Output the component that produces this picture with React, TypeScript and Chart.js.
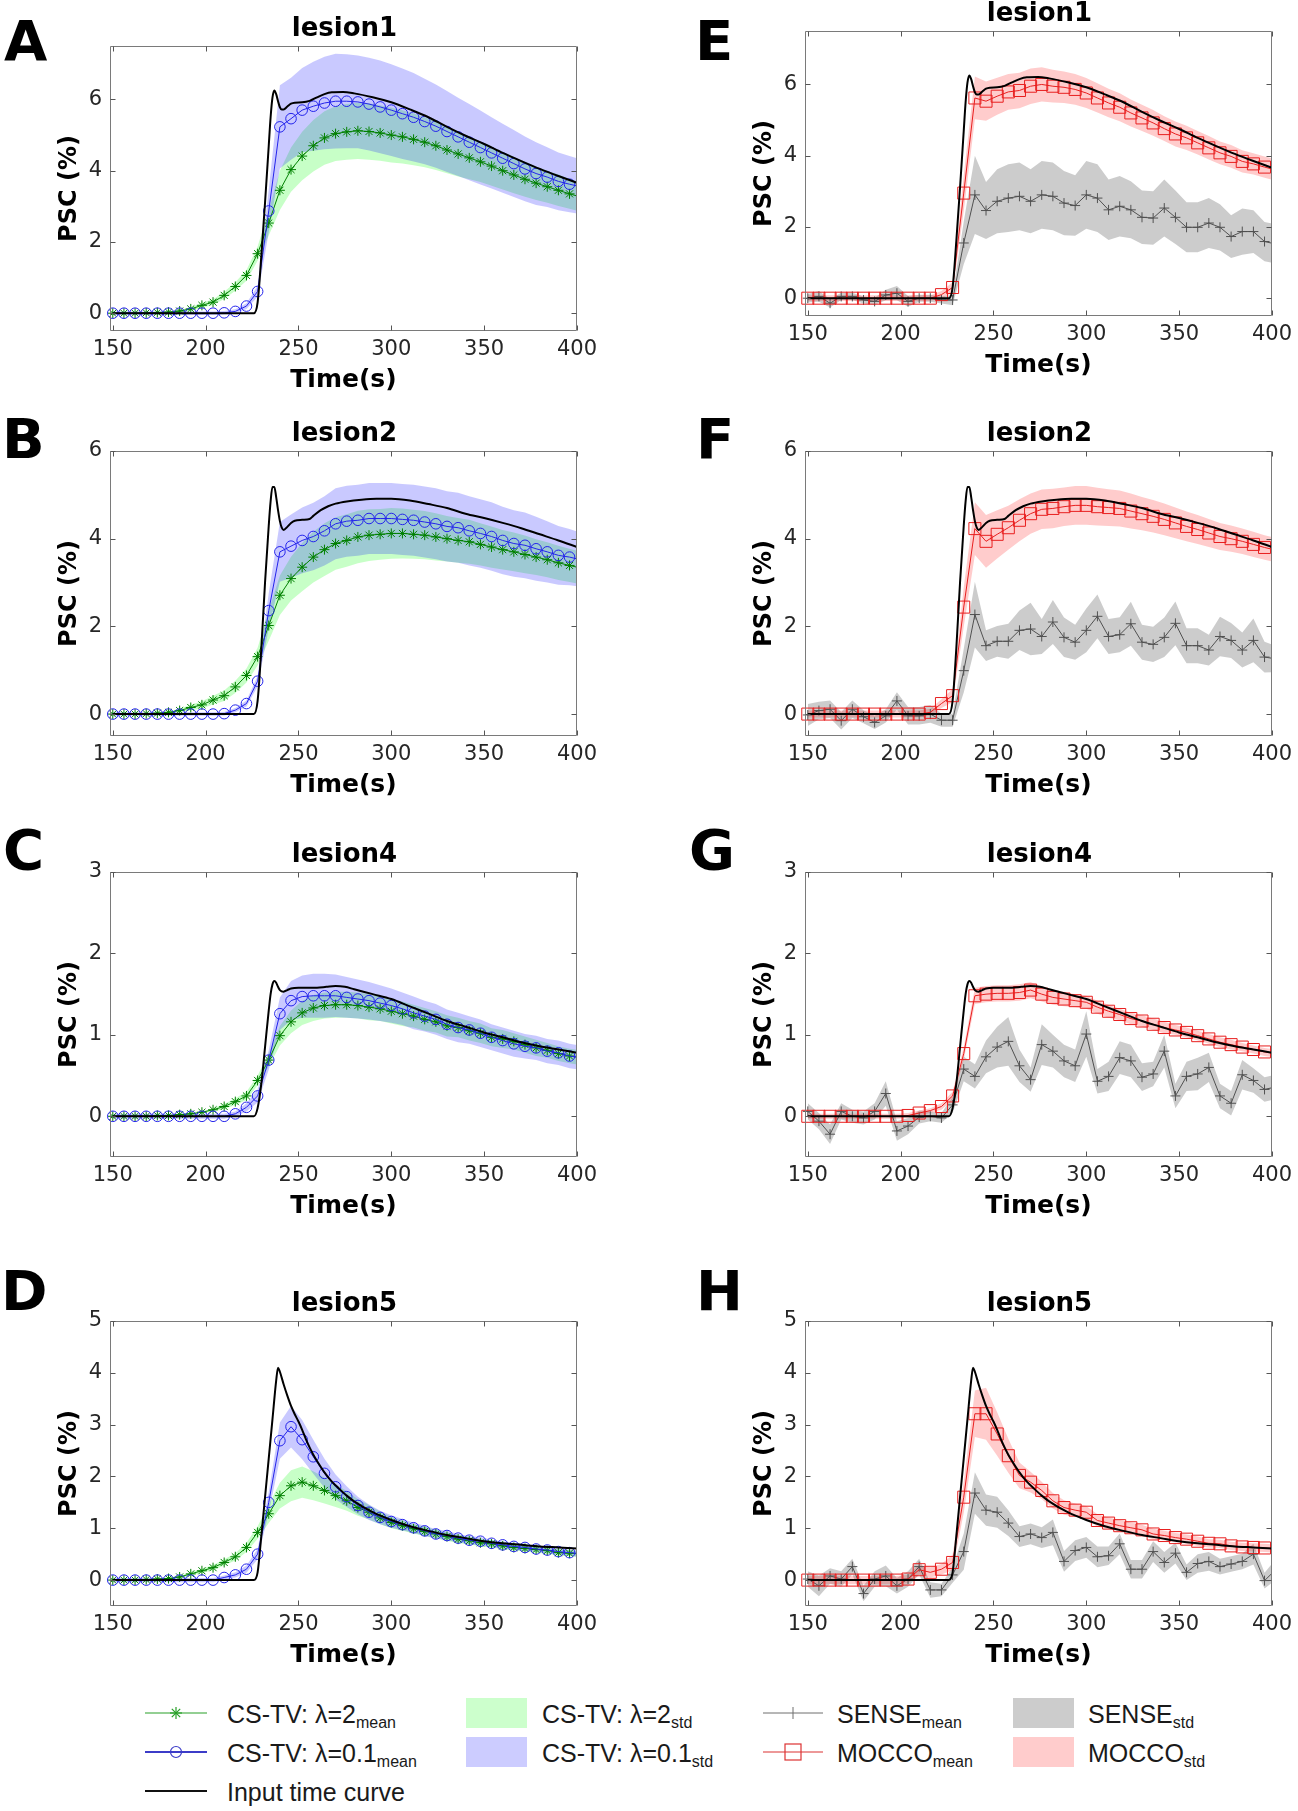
import React, { useEffect, useRef } from "react";
import { Chart, registerables } from "chart.js";

Chart.register(...registerables);

// ---------------- DATA ----------------
const TIME = [150, 156, 162, 168, 174, 180, 186, 192, 198, 204, 210, 216, 222, 228, 234, 240, 246, 252, 258, 264, 270, 276, 282, 288, 294, 300, 306, 312, 318, 324, 330, 336, 342, 348, 354, 360, 366, 372, 378, 384, 390, 396, 402];
const X_TICKS = [150, 200, 250, 300, 350, 400];
const X_MIN = 148.5;
const X_MAX = 400;

// input time curves (one per lesion)
const IN1_T = [150, 226, 228, 230, 232, 234, 235, 236, 237, 238, 239, 240, 241, 242, 244, 246, 248, 252, 256, 260, 264, 268, 274, 280, 290, 300, 310, 320, 330, 340, 350, 360, 370, 380, 390, 400];
const IN1_V = [0, 0, 0.3, 1.6, 3.1, 4.7, 5.5, 6.05, 6.25, 6.15, 5.95, 5.78, 5.72, 5.72, 5.8, 5.88, 5.91, 5.92, 5.96, 6.06, 6.15, 6.2, 6.21, 6.17, 6.06, 5.92, 5.72, 5.5, 5.23, 4.98, 4.75, 4.5, 4.27, 4.05, 3.85, 3.66];
const IN2_T = [150, 226, 228, 230, 232, 234, 235, 236, 237, 238, 239, 240, 241, 242, 244, 246, 248, 252, 256, 258, 262, 266, 270, 276, 284, 292, 300, 310, 320, 330, 340, 350, 360, 370, 380, 390, 400];
const IN2_V = [0, 0, 0.3, 1.5, 3.0, 4.3, 4.85, 5.18, 5.18, 4.95, 4.65, 4.4, 4.25, 4.2, 4.27, 4.36, 4.41, 4.43, 4.45, 4.52, 4.65, 4.74, 4.8, 4.85, 4.89, 4.91, 4.91, 4.87, 4.79, 4.7, 4.57, 4.47, 4.36, 4.24, 4.1, 3.96, 3.81];
const IN4_T = [150, 226, 228, 230, 232, 234, 235, 236, 237, 238, 239, 240, 242, 244, 246, 250, 255, 260, 265, 270, 275, 280, 290, 300, 310, 320, 330, 340, 350, 360, 370, 380, 390, 400];
const IN4_V = [0, 0, 0.1, 0.4, 0.85, 1.3, 1.5, 1.62, 1.66, 1.64, 1.59, 1.55, 1.53, 1.55, 1.57, 1.58, 1.58, 1.58, 1.59, 1.6, 1.59, 1.56, 1.5, 1.44, 1.35, 1.26, 1.17, 1.1, 1.03, 0.97, 0.91, 0.86, 0.82, 0.78];
const IN5_T = [150, 226, 228, 230, 232, 234, 236, 238, 239, 240, 242, 244, 246, 248, 250, 252, 254, 256, 258, 260, 264, 268, 272, 276, 280, 290, 300, 310, 320, 330, 340, 350, 360, 370, 380, 390, 400];
const IN5_V = [0, 0, 0.15, 0.85, 1.6, 2.35, 3.1, 3.85, 4.1, 4.02, 3.78, 3.56, 3.36, 3.2, 3.06, 2.9, 2.72, 2.56, 2.42, 2.3, 2.08, 1.9, 1.76, 1.63, 1.52, 1.31, 1.16, 1.04, 0.95, 0.87, 0.81, 0.75, 0.71, 0.68, 0.65, 0.63, 0.61];

// Panel A (lesion1) CS-TV
const A_L2_MEAN = [0, 0, 0, 0.01, 0.02, 0.03, 0.06, 0.12, 0.22, 0.31, 0.5, 0.75, 1.06, 1.67, 2.53, 3.45, 4.03, 4.41, 4.7, 4.92, 5.04, 5.09, 5.12, 5.1, 5.06, 5.0, 4.95, 4.88, 4.8, 4.7, 4.58, 4.47, 4.36, 4.25, 4.13, 4.0, 3.88, 3.76, 3.65, 3.55, 3.45, 3.35, 3.26];
const A_L2_STD = [0.02, 0.02, 0.02, 0.02, 0.02, 0.02, 0.03, 0.05, 0.07, 0.08, 0.1, 0.12, 0.15, 0.2, 0.35, 0.55, 0.62, 0.68, 0.72, 0.75, 0.77, 0.78, 0.79, 0.79, 0.78, 0.77, 0.75, 0.73, 0.7, 0.68, 0.65, 0.63, 0.6, 0.57, 0.55, 0.53, 0.51, 0.49, 0.47, 0.45, 0.44, 0.42, 0.41];
const A_L01_MEAN = [0, 0, 0, 0, 0, 0, 0, 0, 0, 0, 0.01, 0.05, 0.2, 0.61, 2.87, 5.23, 5.46, 5.7, 5.81, 5.9, 5.95, 5.95, 5.93, 5.87, 5.79, 5.7, 5.6, 5.5, 5.38, 5.25, 5.1, 4.95, 4.8, 4.65, 4.5, 4.35, 4.2, 4.05, 3.92, 3.82, 3.7, 3.62, 3.55];
const A_L01_STD = [0.05, 0.05, 0.05, 0.05, 0.05, 0.05, 0.05, 0.05, 0.05, 0.05, 0.05, 0.06, 0.08, 0.15, 0.6, 1.17, 1.15, 1.18, 1.25, 1.3, 1.33, 1.32, 1.3, 1.3, 1.3, 1.29, 1.27, 1.24, 1.2, 1.17, 1.14, 1.1, 1.07, 1.04, 1.0, 0.97, 0.94, 0.91, 0.88, 0.84, 0.81, 0.79, 0.77];

// Panel B (lesion2) CS-TV
const B_L2_MEAN = [0, 0, 0, 0.01, 0.02, 0.04, 0.08, 0.15, 0.21, 0.32, 0.42, 0.62, 0.88, 1.31, 2.02, 2.71, 3.09, 3.35, 3.58, 3.75, 3.89, 3.96, 4.04, 4.08, 4.1, 4.12, 4.12, 4.1, 4.08, 4.04, 4.0, 3.96, 3.93, 3.87, 3.81, 3.75, 3.7, 3.64, 3.58, 3.52, 3.45, 3.39, 3.33];
const B_L2_STD = [0.02, 0.02, 0.02, 0.02, 0.02, 0.02, 0.04, 0.06, 0.08, 0.1, 0.12, 0.14, 0.16, 0.2, 0.35, 0.45, 0.5, 0.55, 0.58, 0.6, 0.6, 0.6, 0.6, 0.59, 0.58, 0.58, 0.57, 0.56, 0.55, 0.54, 0.52, 0.51, 0.5, 0.48, 0.47, 0.45, 0.44, 0.43, 0.41, 0.4, 0.39, 0.38, 0.37];
const B_L01_MEAN = [0, 0, 0, 0, 0, 0, 0, 0, 0, 0, 0.01, 0.09, 0.24, 0.75, 2.36, 3.7, 3.83, 3.96, 4.05, 4.18, 4.34, 4.4, 4.42, 4.46, 4.46, 4.46, 4.44, 4.42, 4.38, 4.34, 4.28, 4.25, 4.18, 4.12, 4.05, 3.96, 3.89, 3.85, 3.77, 3.7, 3.62, 3.58, 3.52];
const B_L01_STD = [0.04, 0.04, 0.04, 0.04, 0.04, 0.04, 0.04, 0.04, 0.04, 0.04, 0.04, 0.05, 0.07, 0.12, 0.4, 0.68, 0.72, 0.75, 0.77, 0.79, 0.81, 0.81, 0.81, 0.81, 0.81, 0.81, 0.81, 0.81, 0.81, 0.81, 0.8, 0.8, 0.79, 0.78, 0.78, 0.77, 0.76, 0.75, 0.73, 0.7, 0.67, 0.64, 0.62];

// Panel C (lesion4) CS-TV
const C_L2_MEAN = [0, 0, 0, 0, 0.01, 0.01, 0.02, 0.03, 0.05, 0.08, 0.12, 0.18, 0.25, 0.44, 0.69, 0.99, 1.16, 1.27, 1.33, 1.36, 1.37, 1.37, 1.36, 1.34, 1.32, 1.29, 1.26, 1.23, 1.19, 1.16, 1.11, 1.09, 1.05, 1.02, 0.97, 0.95, 0.92, 0.88, 0.84, 0.81, 0.77, 0.74, 0.72];
const C_L2_STD = [0.01, 0.01, 0.01, 0.01, 0.01, 0.01, 0.01, 0.01, 0.01, 0.02, 0.03, 0.04, 0.05, 0.06, 0.08, 0.12, 0.14, 0.15, 0.16, 0.16, 0.16, 0.16, 0.16, 0.16, 0.15, 0.15, 0.15, 0.14, 0.14, 0.13, 0.13, 0.12, 0.12, 0.12, 0.11, 0.11, 0.1, 0.1, 0.1, 0.09, 0.09, 0.09, 0.09];
const C_L01_MEAN = [0, 0, 0, 0, 0, 0, 0, 0, 0, 0, 0, 0.03, 0.11, 0.25, 0.69, 1.26, 1.42, 1.47, 1.48, 1.48, 1.48, 1.46, 1.44, 1.42, 1.39, 1.36, 1.32, 1.27, 1.23, 1.19, 1.13, 1.09, 1.06, 1.02, 0.97, 0.93, 0.89, 0.86, 0.84, 0.8, 0.78, 0.74, 0.72];
const C_L01_STD = [0.03, 0.03, 0.03, 0.03, 0.03, 0.03, 0.03, 0.03, 0.03, 0.03, 0.03, 0.03, 0.05, 0.08, 0.12, 0.2, 0.24, 0.26, 0.27, 0.27, 0.26, 0.25, 0.24, 0.23, 0.22, 0.21, 0.2, 0.2, 0.19, 0.19, 0.18, 0.18, 0.17, 0.17, 0.16, 0.16, 0.16, 0.15, 0.15, 0.15, 0.15, 0.15, 0.15];

// Panel D (lesion5) CS-TV
const D_L2_MEAN = [0, 0, 0, 0.01, 0.02, 0.03, 0.06, 0.12, 0.18, 0.24, 0.34, 0.45, 0.63, 0.92, 1.28, 1.63, 1.82, 1.89, 1.82, 1.73, 1.63, 1.53, 1.4, 1.31, 1.2, 1.11, 1.05, 0.99, 0.94, 0.89, 0.84, 0.79, 0.76, 0.72, 0.7, 0.66, 0.63, 0.61, 0.59, 0.57, 0.53, 0.52, 0.5];
const D_L2_STD = [0.02, 0.02, 0.02, 0.02, 0.02, 0.02, 0.02, 0.03, 0.04, 0.05, 0.06, 0.07, 0.09, 0.12, 0.18, 0.25, 0.3, 0.3, 0.28, 0.25, 0.22, 0.19, 0.16, 0.14, 0.12, 0.11, 0.1, 0.09, 0.09, 0.08, 0.08, 0.08, 0.07, 0.07, 0.07, 0.07, 0.06, 0.06, 0.06, 0.06, 0.06, 0.06, 0.06];
const D_L01_MEAN = [0, 0, 0, 0, 0, 0, 0, 0, 0, 0, 0.05, 0.1, 0.21, 0.5, 1.5, 2.69, 2.96, 2.71, 2.38, 2.06, 1.8, 1.61, 1.44, 1.31, 1.21, 1.13, 1.07, 1.01, 0.95, 0.89, 0.86, 0.81, 0.77, 0.75, 0.71, 0.68, 0.65, 0.63, 0.6, 0.58, 0.55, 0.53, 0.51];
const D_L01_STD = [0.04, 0.04, 0.04, 0.04, 0.04, 0.04, 0.04, 0.04, 0.04, 0.04, 0.04, 0.05, 0.07, 0.1, 0.2, 0.35, 0.4, 0.38, 0.33, 0.28, 0.24, 0.2, 0.17, 0.15, 0.13, 0.12, 0.11, 0.1, 0.1, 0.09, 0.09, 0.08, 0.08, 0.08, 0.07, 0.07, 0.07, 0.07, 0.06, 0.06, 0.06, 0.06, 0.06];

// Panel E (lesion1) SENSE / MOCCO
const E_SENSE_MEAN = [0, 0.05, -0.14, 0.05, 0.05, -0.05, -0.09, 0.09, 0.14, -0.09, 0, 0, -0.05, -0.05, 1.55, 2.9, 2.46, 2.72, 2.81, 2.86, 2.72, 2.9, 2.86, 2.67, 2.6, 2.9, 2.81, 2.48, 2.58, 2.48, 2.27, 2.25, 2.53, 2.27, 1.99, 1.99, 2.11, 1.99, 1.73, 1.87, 1.87, 1.59, 1.52];
const E_SENSE_STD = [0.12, 0.15, 0.12, 0.1, 0.1, 0.1, 0.1, 0.15, 0.2, 0.15, 0.1, 0.1, 0.1, 0.15, 0.6, 1.1, 0.8, 0.9, 0.95, 0.95, 0.9, 0.95, 0.95, 0.9, 0.85, 0.95, 0.95, 0.85, 0.85, 0.8, 0.75, 0.75, 0.8, 0.75, 0.7, 0.7, 0.7, 0.65, 0.6, 0.65, 0.6, 0.55, 0.55];
const E_MOCCO_MEAN = [0, 0, 0, 0, 0, 0, 0, 0, 0, 0, 0, 0, 0.1, 0.3, 2.95, 5.62, 5.53, 5.67, 5.79, 5.83, 5.95, 6.0, 5.95, 5.92, 5.86, 5.76, 5.62, 5.48, 5.36, 5.2, 5.06, 4.92, 4.76, 4.61, 4.5, 4.36, 4.22, 4.08, 3.98, 3.84, 3.77, 3.68, 3.6];
const E_MOCCO_STD = [0.08, 0.08, 0.08, 0.08, 0.08, 0.08, 0.08, 0.08, 0.08, 0.08, 0.08, 0.08, 0.1, 0.15, 0.5, 0.6, 0.55, 0.52, 0.5, 0.5, 0.5, 0.48, 0.46, 0.44, 0.43, 0.42, 0.41, 0.4, 0.39, 0.38, 0.37, 0.36, 0.35, 0.35, 0.34, 0.33, 0.33, 0.32, 0.32, 0.31, 0.3, 0.3, 0.3];

// Panel F (lesion2) SENSE / MOCCO
const F_SENSE_MEAN = [-0.02, 0.08, 0.11, -0.15, 0.11, -0.06, -0.19, -0.04, 0.3, -0.04, -0.04, 0, -0.14, -0.14, 0.99, 2.27, 1.56, 1.66, 1.66, 1.91, 1.94, 1.77, 2.1, 1.75, 1.64, 1.91, 2.23, 1.77, 1.81, 2.06, 1.64, 1.59, 1.75, 2.07, 1.56, 1.56, 1.46, 1.77, 1.68, 1.46, 1.68, 1.3, 1.26];
const F_SENSE_STD = [0.25, 0.2, 0.2, 0.2, 0.2, 0.15, 0.15, 0.15, 0.2, 0.2, 0.2, 0.2, 0.15, 0.15, 0.5, 0.75, 0.35, 0.35, 0.4, 0.45, 0.6, 0.4, 0.5, 0.45, 0.4, 0.5, 0.5, 0.4, 0.4, 0.5, 0.4, 0.4, 0.45, 0.5, 0.4, 0.4, 0.35, 0.45, 0.4, 0.4, 0.5, 0.35, 0.3];
const F_MOCCO_MEAN = [0, 0, 0, 0, 0, 0, 0, 0, 0, 0, 0, 0.04, 0.24, 0.42, 2.44, 4.23, 3.94, 4.1, 4.25, 4.42, 4.57, 4.67, 4.69, 4.73, 4.76, 4.76, 4.73, 4.71, 4.69, 4.63, 4.57, 4.51, 4.44, 4.36, 4.28, 4.21, 4.13, 4.05, 4.0, 3.94, 3.87, 3.8, 3.74];
const F_MOCCO_STD = [0.08, 0.08, 0.08, 0.08, 0.08, 0.08, 0.08, 0.08, 0.08, 0.08, 0.08, 0.08, 0.1, 0.15, 0.45, 0.6, 0.6, 0.55, 0.5, 0.48, 0.46, 0.45, 0.45, 0.44, 0.44, 0.44, 0.43, 0.42, 0.41, 0.4, 0.38, 0.37, 0.36, 0.35, 0.34, 0.33, 0.32, 0.31, 0.3, 0.29, 0.29, 0.28, 0.28];

// Panel G (lesion4) SENSE / MOCCO
const G_SENSE_MEAN = [0.06, -0.06, -0.22, 0.06, 0, -0.02, 0.06, 0.28, -0.18, -0.12, -0.01, 0, -0.02, 0.14, 0.58, 0.49, 0.73, 0.85, 0.92, 0.62, 0.45, 0.88, 0.8, 0.68, 0.62, 1.01, 0.43, 0.49, 0.72, 0.68, 0.48, 0.52, 0.8, 0.25, 0.49, 0.52, 0.6, 0.25, 0.16, 0.51, 0.44, 0.33, 0.36];
const G_SENSE_STD = [0.1, 0.1, 0.12, 0.1, 0.08, 0.08, 0.1, 0.15, 0.12, 0.1, 0.08, 0.06, 0.06, 0.1, 0.15, 0.15, 0.2, 0.25, 0.3, 0.2, 0.15, 0.25, 0.2, 0.2, 0.2, 0.28, 0.15, 0.18, 0.2, 0.2, 0.17, 0.15, 0.2, 0.15, 0.18, 0.2, 0.18, 0.15, 0.15, 0.18, 0.15, 0.15, 0.15];
const G_MOCCO_MEAN = [0, 0, 0, 0, 0, 0, 0, 0, 0, 0.01, 0.04, 0.07, 0.12, 0.25, 0.77, 1.48, 1.5, 1.51, 1.51, 1.52, 1.55, 1.5, 1.46, 1.44, 1.42, 1.4, 1.34, 1.29, 1.25, 1.2, 1.17, 1.13, 1.09, 1.06, 1.03, 0.99, 0.95, 0.91, 0.88, 0.85, 0.82, 0.79, 0.77];
const G_MOCCO_STD = [0.03, 0.03, 0.03, 0.03, 0.03, 0.03, 0.03, 0.03, 0.03, 0.03, 0.03, 0.03, 0.04, 0.05, 0.08, 0.1, 0.1, 0.1, 0.1, 0.1, 0.1, 0.09, 0.09, 0.09, 0.08, 0.08, 0.08, 0.08, 0.07, 0.07, 0.07, 0.07, 0.07, 0.06, 0.06, 0.06, 0.06, 0.06, 0.06, 0.05, 0.05, 0.05, 0.05];

// Panel H (lesion5) SENSE / MOCCO
const H_SENSE_MEAN = [0.02, -0.11, 0.08, 0.02, 0.26, -0.26, 0.02, 0.08, -0.11, 0.02, 0.26, -0.19, -0.19, 0.1, 0.55, 1.68, 1.35, 1.31, 1.1, 0.84, 0.89, 0.82, 0.92, 0.36, 0.57, 0.63, 0.45, 0.47, 0.7, 0.21, 0.21, 0.55, 0.34, 0.52, 0.15, 0.32, 0.36, 0.26, 0.31, 0.36, 0.5, -0.01, 0.2];
const H_SENSE_STD = [0.15, 0.2, 0.15, 0.15, 0.15, 0.15, 0.15, 0.2, 0.15, 0.15, 0.15, 0.15, 0.12, 0.15, 0.35, 0.4, 0.3, 0.3, 0.25, 0.2, 0.2, 0.2, 0.25, 0.2, 0.2, 0.2, 0.2, 0.18, 0.2, 0.18, 0.18, 0.2, 0.2, 0.2, 0.15, 0.18, 0.18, 0.15, 0.15, 0.15, 0.2, 0.15, 0.2];
const H_MOCCO_MEAN = [0, 0, 0, 0, 0, 0, 0, 0, 0, 0.02, 0.2, 0.15, 0.21, 0.34, 1.6, 3.21, 3.21, 2.82, 2.4, 2.02, 1.89, 1.73, 1.53, 1.4, 1.35, 1.31, 1.15, 1.1, 1.05, 1.01, 0.97, 0.89, 0.86, 0.82, 0.79, 0.75, 0.71, 0.7, 0.66, 0.64, 0.63, 0.62, 0.61];
const H_MOCCO_STD = [0.08, 0.08, 0.08, 0.08, 0.08, 0.08, 0.08, 0.08, 0.08, 0.08, 0.1, 0.1, 0.1, 0.15, 0.3, 0.45, 0.5, 0.42, 0.33, 0.25, 0.2, 0.17, 0.15, 0.14, 0.13, 0.12, 0.12, 0.11, 0.11, 0.1, 0.1, 0.1, 0.09, 0.09, 0.09, 0.09, 0.08, 0.08, 0.08, 0.08, 0.08, 0.08, 0.08];

const Y_TICKS_1 = [0, 2, 4, 6];
const Y_TICKS_2 = [0, 2, 4, 6];
const Y_TICKS_4 = [0, 1, 2, 3];
const Y_TICKS_5 = [0, 1, 2, 3, 4, 5];

// ---------------- LAYOUT / STYLE ----------------
const AX_W = 469;
const AX_H = 285;
const PAD_L = 90;
const PAD_T = 30;
const PAD_R = 24;
const PAD_B = 70;
const FONT = '"DejaVu Sans", Verdana, sans-serif';

const CS_STYLE = {
  c1: "rgb(0,128,0)", p1: "star", r1: 5,
  c2: "rgb(35,35,235)", p2: "circle", r2: 5.3,
  f1: "rgba(0,255,0,0.22)", f2: "rgba(0,0,255,0.21)",
};
const MC_STYLE = {
  c1: "rgb(80,80,80)", p1: "cross", r1: 5,
  c2: "rgb(232,30,30)", p2: "rect", r2: 8.5,
  f1: "rgba(0,0,0,0.2)", f2: "rgba(255,0,0,0.2)",
};

type PanelDef = {
  letter: string; letterX: number; letterY: number;
  title: string; left: number; top: number;
  yMin: number; yMax: number; yTicks: number[];
  inT: number[]; inV: number[];
  kind: "cs" | "mc";
  m1: number[]; s1: number[]; m2: number[]; s2: number[];
};

const PANELS: PanelDef[] = [
  { letter: "A", letterX: 4, letterY: 13, title: "lesion1", left: 110, top: 46, yMin: -0.5, yMax: 7.5, yTicks: Y_TICKS_1, inT: IN1_T, inV: IN1_V, kind: "cs", m1: A_L2_MEAN, s1: A_L2_STD, m2: A_L01_MEAN, s2: A_L01_STD },
  { letter: "B", letterX: 2, letterY: 411, title: "lesion2", left: 110, top: 451, yMin: -0.5, yMax: 6, yTicks: Y_TICKS_2, inT: IN2_T, inV: IN2_V, kind: "cs", m1: B_L2_MEAN, s1: B_L2_STD, m2: B_L01_MEAN, s2: B_L01_STD },
  { letter: "C", letterX: 3, letterY: 822, title: "lesion4", left: 110, top: 872, yMin: -0.5, yMax: 3, yTicks: Y_TICKS_4, inT: IN4_T, inV: IN4_V, kind: "cs", m1: C_L2_MEAN, s1: C_L2_STD, m2: C_L01_MEAN, s2: C_L01_STD },
  { letter: "D", letterX: 1, letterY: 1263, title: "lesion5", left: 110, top: 1321, yMin: -0.5, yMax: 5, yTicks: Y_TICKS_5, inT: IN5_T, inV: IN5_V, kind: "cs", m1: D_L2_MEAN, s1: D_L2_STD, m2: D_L01_MEAN, s2: D_L01_STD },
  { letter: "E", letterX: 695, letterY: 13, title: "lesion1", left: 805, top: 31, yMin: -0.5, yMax: 7.5, yTicks: Y_TICKS_1, inT: IN1_T, inV: IN1_V, kind: "mc", m1: E_SENSE_MEAN, s1: E_SENSE_STD, m2: E_MOCCO_MEAN, s2: E_MOCCO_STD },
  { letter: "F", letterX: 696, letterY: 411, title: "lesion2", left: 805, top: 451, yMin: -0.5, yMax: 6, yTicks: Y_TICKS_2, inT: IN2_T, inV: IN2_V, kind: "mc", m1: F_SENSE_MEAN, s1: F_SENSE_STD, m2: F_MOCCO_MEAN, s2: F_MOCCO_STD },
  { letter: "G", letterX: 689, letterY: 822, title: "lesion4", left: 805, top: 872, yMin: -0.5, yMax: 3, yTicks: Y_TICKS_4, inT: IN4_T, inV: IN4_V, kind: "mc", m1: G_SENSE_MEAN, s1: G_SENSE_STD, m2: G_MOCCO_MEAN, s2: G_MOCCO_STD },
  { letter: "H", letterX: 696, letterY: 1263, title: "lesion5", left: 805, top: 1321, yMin: -0.5, yMax: 5, yTicks: Y_TICKS_5, inT: IN5_T, inV: IN5_V, kind: "mc", m1: H_SENSE_MEAN, s1: H_SENSE_STD, m2: H_MOCCO_MEAN, s2: H_MOCCO_STD },
];

function pts(t: number[], v: number[]) {
  return t.map((x, i) => ({ x, y: v[i] }));
}

const boxPlugin = {
  id: "matlabBox",
  afterDatasetsDraw(chart: any) {
    const { ctx, chartArea } = chart;
    const xs = chart.scales.x;
    const ys = chart.scales.y;
    const l = Math.round(chartArea.left) + 0.5;
    const r = Math.round(chartArea.right) - 0.5;
    const t = Math.round(chartArea.top) + 0.5;
    const b = Math.round(chartArea.bottom) - 0.5;
    ctx.save();
    ctx.lineWidth = 1;
    ctx.strokeStyle = "#7a7a7a";
    ctx.beginPath();
    ctx.rect(l, t, r - l, b - t);
    ctx.stroke();
    ctx.strokeStyle = "#555";
    ctx.beginPath();
    const tl = 5;
    for (const tk of xs.ticks) {
      const px = Math.round(xs.getPixelForValue(tk.value)) + 0.5;
      ctx.moveTo(px, b); ctx.lineTo(px, b - tl);
      ctx.moveTo(px, t); ctx.lineTo(px, t + tl);
    }
    for (const tk of ys.ticks) {
      const py = Math.round(ys.getPixelForValue(tk.value)) + 0.5;
      ctx.moveTo(l, py); ctx.lineTo(l + tl, py);
      ctx.moveTo(r, py); ctx.lineTo(r - tl, py);
    }
    ctx.stroke();
    ctx.restore();
  },
};

const CLIP = { left: 10, top: 10, right: 0, bottom: 10 };

function Panel({ p }: { p: PanelDef }) {
  const ref = useRef<HTMLCanvasElement | null>(null);
  const W = PAD_L + AX_W + PAD_R;
  const H = PAD_T + AX_H + PAD_B;
  useEffect(() => {
    const st = p.kind === "cs" ? CS_STYLE : MC_STYLE;
    const up = (m: number[], s: number[]) => m.map((v, i) => v + s[i]);
    const lo = (m: number[], s: number[]) => m.map((v, i) => v - s[i]);
    const none = "rgba(0,0,0,0)";
    const rad = (r: number) => (c: any) => (c.raw && c.raw.x > X_MAX ? 0 : r);
    const datasets: any[] = [
      { data: pts(p.inT, p.inV), borderColor: "#000", borderWidth: 2, pointRadius: 0, cubicInterpolationMode: "monotone", order: 0, clip: CLIP },
      { data: pts(TIME, p.m2), borderColor: st.c2, borderWidth: 1, pointStyle: st.p2, pointRadius: rad(st.r2), pointBorderColor: st.c2, pointBackgroundColor: none, pointBorderWidth: 1, order: 1, clip: CLIP },
      { data: pts(TIME, p.m1), borderColor: st.c1, borderWidth: 1, pointStyle: st.p1, pointRadius: rad(st.r1), pointBorderColor: st.c1, pointBackgroundColor: none, pointBorderWidth: 1, order: 2, clip: CLIP },
      { data: pts(TIME, up(p.m2, p.s2)), borderColor: none, borderWidth: 0, pointRadius: 0, fill: "+1", backgroundColor: st.f2, order: 3, clip: CLIP },
      { data: pts(TIME, lo(p.m2, p.s2)), borderColor: none, borderWidth: 0, pointRadius: 0, fill: false, order: 3, clip: CLIP },
      { data: pts(TIME, up(p.m1, p.s1)), borderColor: none, borderWidth: 0, pointRadius: 0, fill: "+1", backgroundColor: st.f1, order: 4, clip: CLIP },
      { data: pts(TIME, lo(p.m1, p.s1)), borderColor: none, borderWidth: 0, pointRadius: 0, fill: false, order: 4, clip: CLIP },
    ];
    const tickFont = { family: FONT, size: 21 };
    const chart = new Chart(ref.current as HTMLCanvasElement, {
      type: "line",
      data: { datasets },
      options: {
        responsive: false,
        animation: false,
        devicePixelRatio: 1,
        events: [],
        layout: { padding: { top: PAD_T, right: PAD_R, left: 0, bottom: 0 } },
        plugins: { legend: { display: false }, tooltip: { enabled: false }, title: { display: false } },
        elements: { line: { tension: 0 } },
        scales: {
          x: {
            type: "linear", min: X_MIN, max: X_MAX,
            afterBuildTicks: (s: any) => { s.ticks = X_TICKS.map((v) => ({ value: v })); },
            afterFit: (s: any) => { s.height = PAD_B; },
            grid: { display: false, drawTicks: false },
            border: { display: false },
            ticks: { font: tickFont, color: "#262626", padding: 6, autoSkip: false, maxRotation: 0, callback: (v: any) => String(v) },
            title: { display: true, text: "Time(s)", color: "#000", font: { family: FONT, size: 25, weight: "bold" }, padding: { top: 0, bottom: 6 } },
          },
          y: {
            type: "linear", min: p.yMin, max: p.yMax,
            afterBuildTicks: (s: any) => { s.ticks = p.yTicks.map((v) => ({ value: v })); },
            afterFit: (s: any) => { s.width = PAD_L; },
            grid: { display: false, drawTicks: false },
            border: { display: false },
            ticks: { font: tickFont, color: "#262626", padding: 8, autoSkip: false, callback: (v: any) => String(v) },
            title: { display: true, text: "PSC (%)", color: "#000", font: { family: FONT, size: 24, weight: "bold" }, padding: { top: 35, bottom: 0 } },
          },
        },
      } as any,
      plugins: [boxPlugin],
    });
    return () => chart.destroy();
  }, []);
  return (
    <canvas
      ref={ref}
      width={W}
      height={H}
      style={{ position: "absolute", left: p.left - PAD_L, top: p.top - PAD_T, width: W, height: H }}
    />
  );
}

const LEG_FONT = '"Liberation Sans", Arial, sans-serif';

function LegendText({ x, cy, main, sub }: { x: number; cy: number; main: string; sub?: string }) {
  return (
    <div style={{ position: "absolute", left: x, top: cy + 10 - 24, fontFamily: LEG_FONT, fontSize: 25, lineHeight: "30px", color: "#1a1a1a", whiteSpace: "nowrap" }}>
      {main}
      {sub ? <span style={{ fontSize: 16, position: "relative", top: 5 }}>{sub}</span> : null}
    </div>
  );
}

function LegendLine({ x, cy, w, color, lw, marker }: { x: number; cy: number; w: number; color: string; lw: number; marker: string }) {
  const c = w / 2;
  let m: any = null;
  if (marker === "star") {
    m = (
      <g stroke={color} strokeWidth={1.2}>
        <line x1={c - 6} y1={12} x2={c + 6} y2={12} />
        <line x1={c} y1={6} x2={c} y2={18} />
        <line x1={c - 4.2} y1={7.8} x2={c + 4.2} y2={16.2} />
        <line x1={c + 4.2} y1={7.8} x2={c - 4.2} y2={16.2} />
      </g>
    );
  } else if (marker === "circle") {
    m = <circle cx={c} cy={12} r={5.5} fill="none" stroke={color} strokeWidth={1.2} />;
  } else if (marker === "plus") {
    m = (
      <g stroke={color} strokeWidth={1}>
        <line x1={c} y1={6} x2={c} y2={18} />
      </g>
    );
  } else if (marker === "square") {
    m = <rect x={c - 8} y={4} width={16} height={16} fill="none" stroke={color} strokeWidth={1.2} />;
  }
  return (
    <svg width={w} height={24} style={{ position: "absolute", left: x, top: cy - 12 }}>
      <line x1={0} y1={12} x2={w} y2={12} stroke={color} strokeWidth={lw} />
      {m}
    </svg>
  );
}

function Swatch({ x, cy, color }: { x: number; cy: number; color: string }) {
  return <div style={{ position: "absolute", left: x, top: cy - 15, width: 61, height: 30, background: color }} />;
}

export default function App() {
  const R1 = 1713;
  const R2 = 1752;
  const R3 = 1791;
  return (
    <div style={{ position: "absolute", left: 0, top: 0, width: 1298, height: 1811, background: "#fff", overflow: "hidden" }}>
      {PANELS.map((p) => (
        <React.Fragment key={p.letter}>
          <Panel p={p} />
          <div style={{ position: "absolute", left: p.left, top: p.top - 34, width: AX_W, textAlign: "center", fontFamily: FONT, fontWeight: "bold", fontSize: 26, lineHeight: "30px", color: "#000" }}>
            {p.title}
          </div>
          <div style={{ position: "absolute", left: p.letterX, top: p.letterY, fontFamily: FONT, fontWeight: "bold", fontSize: 56, lineHeight: "56px", color: "#000" }}>
            {p.letter}
          </div>
        </React.Fragment>
      ))}
      {/* legend */}
      <LegendLine x={145} cy={R1} w={62} color="rgb(40,160,40)" lw={1.2} marker="star" />
      <LegendText x={227} cy={R1} main="CS-TV: λ=2" sub="mean" />
      <LegendLine x={145} cy={R2} w={62} color="rgb(60,60,200)" lw={2} marker="circle" />
      <LegendText x={227} cy={R2} main="CS-TV: λ=0.1" sub="mean" />
      <LegendLine x={145} cy={R3} w={62} color="#111" lw={2} marker="none" />
      <LegendText x={227} cy={R3} main="Input time curve" />

      <Swatch x={466} cy={R1} color="rgb(204,255,204)" />
      <LegendText x={542} cy={R1} main="CS-TV: λ=2" sub="std" />
      <Swatch x={466} cy={R2} color="rgb(204,204,255)" />
      <LegendText x={542} cy={R2} main="CS-TV: λ=0.1" sub="std" />

      <LegendLine x={763} cy={R1} w={60} color="rgb(110,110,110)" lw={1} marker="plus" />
      <LegendText x={837} cy={R1} main="SENSE" sub="mean" />
      <LegendLine x={763} cy={R2} w={60} color="rgb(220,50,50)" lw={1.2} marker="square" />
      <LegendText x={837} cy={R2} main="MOCCO" sub="mean" />

      <Swatch x={1013} cy={R1} color="rgb(204,204,204)" />
      <LegendText x={1088} cy={R1} main="SENSE" sub="std" />
      <Swatch x={1013} cy={R2} color="rgb(255,204,204)" />
      <LegendText x={1088} cy={R2} main="MOCCO" sub="std" />
    </div>
  );
}
